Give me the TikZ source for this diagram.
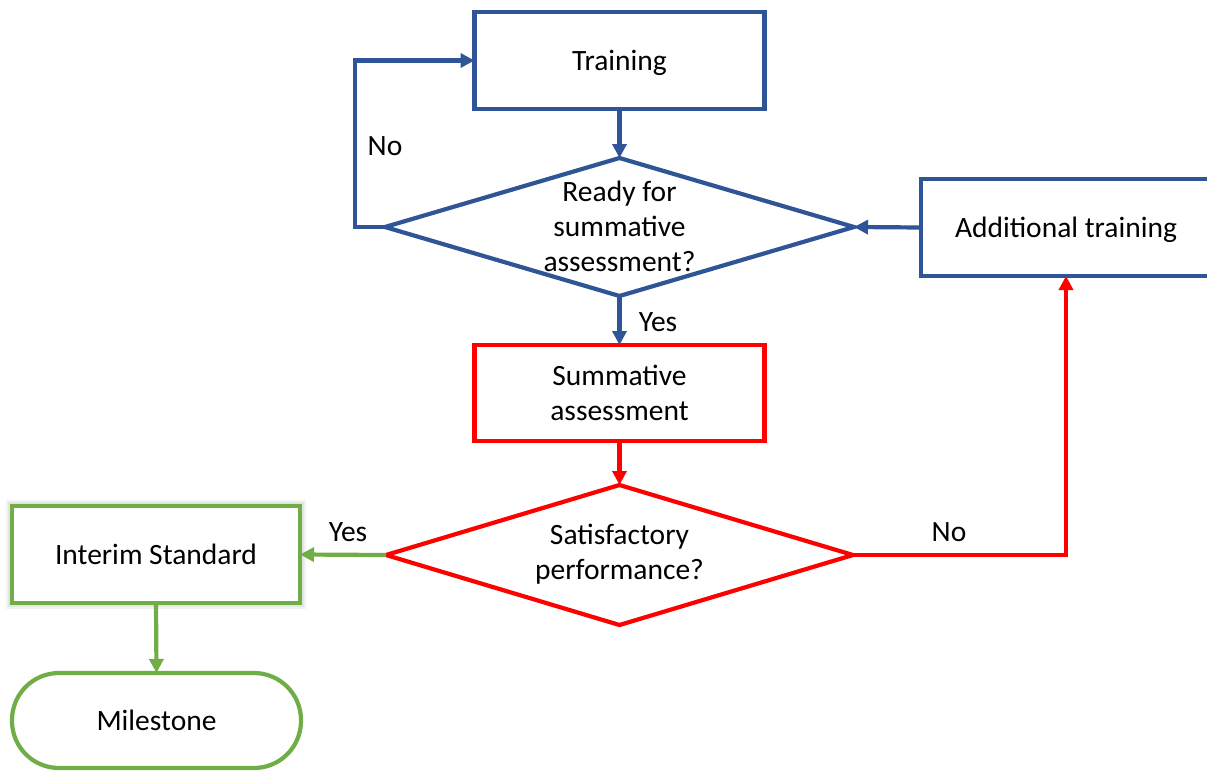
\documentclass[tikz,border=0pt]{standalone}
\usepackage{fontspec}
\setmainfont{Carlito}
\usetikzlibrary{arrows.meta,shapes.geometric}
\definecolor{cblue}{HTML}{2F5597}
\definecolor{cred}{HTML}{FF0000}
\definecolor{cgreen}{HTML}{70AD47}
\begin{document}
\begin{tikzpicture}[x=1pt,y=-1pt,
  every node/.style={font=\fontsize{29.5}{35}\selectfont, text=black},
  box/.style={rectangle, minimum width=290pt, minimum height=97pt, inner sep=0pt, outer sep=0pt, align=center, line width=4.2pt},
  decision/.style={diamond, inner sep=0pt, outer sep=0pt, line width=4.2pt},
  txt/.style={align=center, inner sep=0pt},
  flow/.style={-{Triangle[length=14pt,width=14pt]}, line width=4.2pt},
  lbl/.style={inner sep=0pt}]
\useasboundingbox (0,0) rectangle (1207,771);
\clip (0,0) rectangle (1207,771);

% process boxes
\node[box, draw=cblue, text depth=0pt] (train) at (619.5,60.5) {Training};
\node[decision, draw=cblue, minimum width=469pt, minimum height=138pt] (ready) at (619.5,227) {};
\node[txt] at ([yshift=1pt]ready.center) {Ready for\\summative\\assessment?};
\node[box, draw=cblue, text depth=0pt] (addl) at (1066,227.5) {Additional training};
\node[box, draw=cred, minimum height=96pt] (summ) at (619.5,393) {Summative\\assessment};
\node[decision, draw=cred, minimum width=467pt, minimum height=140pt] (sat) at (619.5,555) {};
\node[txt] at ([yshift=1pt]sat.center) {Satisfactory\\performance?};

% soft shadow behind the interim box
\draw[black, opacity=0.05, line width=12pt] (12,506) rectangle (300,603);
\draw[black, opacity=0.06, line width=8pt] (12,506) rectangle (300,603);
\node[box, draw=cgreen, fill=white, minimum width=288pt] (interim) at (156,554.5) {Interim Standard};
\node[box, draw=cgreen, minimum width=289pt, minimum height=95pt, rounded corners=47pt] (mile) at (156.5,720.5) {\raisebox{-2pt}{Milestone}};

% connectors
\draw[flow, cblue] (train.south) -- (ready.north);
\draw[flow, cblue] (ready.west) -- ++(-30,0) |- (train.west);
\draw[flow, cblue] (ready.south) -- (summ.north);
\draw[flow, cblue] (addl.west) -- (ready.east);
\draw[flow, cred] (summ.south) -- (sat.north);
\draw[flow, cred] (sat.east) -| (addl.south);
\draw[flow, cgreen] (sat.west) -- (interim.east);
\draw[flow, cgreen] (interim.south) -- (mile.north);

% branch labels
\node[lbl] (noA) at (385,146) {No};
\node[lbl] (yesA) at (658,322) {Yes};
\node[lbl] (yesB) at (348,532) {Yes};
\node[lbl] (noB) at (949,532) {No};
\end{tikzpicture}
\end{document}
